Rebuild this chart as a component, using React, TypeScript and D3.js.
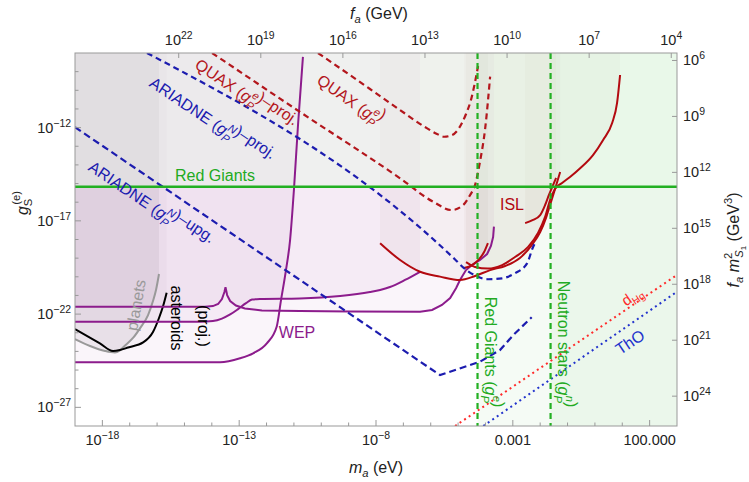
import React, { useEffect, useRef } from 'react';
import * as d3 from 'd3';

type P = [number, number];

// all curves are [log10(m_a / eV), log10(g_S^e)]
const planetsCurve: P[] = [[-19, -23.34], [-18.45, -23.71], [-17.9, -23.98], [-17.54, -24.06], [-17.36, -23.95], [-17.17, -23.68], [-16.88, -23.28], [-16.62, -22.75], [-16.33, -22.05], [-16.15, -21.3], [-16.04, -20.71], [-15.93, -19.85]];
const asteroidsCurve: P[] = [[-19, -22.8], [-18.09, -23.57], [-17.61, -23.98], [-17.36, -23.93], [-17.06, -23.79], [-16.51, -23.52], [-16.15, -22.96], [-15.93, -22.21], [-15.78, -21.57], [-15.65, -20.85]];
const wepCurve: P[] = [[-19, -24.58], [-13.7, -24.58], [-12.97, -24.37], [-12.49, -24.1], [-11.99, -23.57], [-11.63, -22.68], [-11.47, -21.24], [-11.29, -19.64], [-11.14, -18.03], [-11.0, -15.35], [-10.85, -11.86], [-10.67, -8.21]];
const cuspCurve: P[] = [[-19, -21.6], [-14.25, -21.6], [-13.96, -21.57], [-13.77, -21.46], [-13.63, -21.19], [-13.54, -20.82], [-13.5, -20.56], [-13.44, -20.98], [-13.33, -21.3], [-13.12, -21.54], [-12.79, -21.7], [-12.17, -21.81], [-10.78, -21.83], [-8.95, -21.86], [-6.39, -21.87], [-5.95, -21.78], [-5.59, -21.51], [-5.29, -21.14], [-5.07, -20.6], [-4.93, -20.17], [-4.71, -19.64], [-4.49, -19.37], [-4.2, -19.1], [-3.94, -18.78], [-3.8, -18.35], [-3.72, -17.87], [-3.69, -17.31]];
const flatCurve: P[] = [[-19, -22.41], [-14.43, -22.41], [-13.96, -22.37], [-13.63, -22.24], [-13.33, -22.02], [-13.04, -21.73], [-12.75, -21.41], [-12.53, -21.22], [-12.24, -21.19], [-10.78, -21.16], [-9.31, -21.03], [-8.22, -20.82], [-7.85, -20.71], [-7.49, -20.55], [-6.94, -20.17], [-6.39, -19.73]];
const islA: P[] = [[-4.71, -19.21], [-4.38, -19.47], [-3.91, -19.56], [-3.39, -19.37], [-2.92, -18.94], [-2.44, -18.4], [-2.08, -17.65], [-1.82, -16.79], [-1.64, -15.88], [-1.46, -15.29], [-1.2, -14.97], [-0.91, -14.65], [-0.54, -14.18], [-0.07, -13.47], [0.3, -12.66], [0.63, -11.75], [0.81, -10.68], [0.92, -9.18]];
const islB: P[] = [[-7.85, -18.2], [-7.12, -19.1], [-6.39, -19.73], [-5.66, -19.99], [-4.93, -20.17], [-4.38, -19.96], [-3.83, -19.64], [-3.28, -19.42], [-2.74, -18.99], [-2.3, -18.29], [-2.0, -17.6], [-1.79, -16.85], [-1.64, -16.15], [-1.49, -15.45], [-1.38, -14.92], [-1.27, -14.38]];
const islC: P[] = [[-4.78, -19.53], [-4.49, -19.37], [-4.23, -19.05], [-4.05, -18.67], [-3.91, -18.19]];
const islD: P[] = [[-2.55, -17.12], [-2.26, -16.95], [-2.0, -16.69], [-1.82, -16.15], [-1.68, -15.61], [-1.53, -15.08], [-1.42, -14.7]];
const quaxProj: P[] = [[-13.99, -8.0], [-10.78, -11.16], [-7.12, -14.72], [-5.92, -15.97], [-5.23, -16.42], [-4.81, -16.15], [-4.56, -15.61], [-4.38, -15.08], [-4.2, -13.83], [-4.01, -12.04], [-3.83, -9.27]];
const quaxCurve: P[] = [[-10.12, -8.0], [-8.22, -9.93], [-7.12, -11.06], [-6.21, -11.97], [-5.77, -12.34], [-5.51, -12.49], [-5.22, -12.4], [-5.04, -12.18], [-4.71, -11.27], [-4.53, -10.52], [-4.38, -9.55], [-4.27, -8.7]];
const ariadneProj: P[] = [[-16.37, -8.0], [-5.11, -19.07], [-4.75, -19.58], [-4.38, -19.93], [-3.91, -20.13], [-3.39, -20.08], [-2.92, -19.81], [-2.48, -19.28], [-2.26, -18.4], [-2.19, -18.19]];
const ariadneUpg: P[] = [[-19, -11.98], [-5.66, -25.27], [-4.2, -24.55], [-3.47, -23.93], [-2.98, -23.12], [-2.31, -22.17]];
const dHgLine: P[] = [[-5.11, -28], [3, -19.9]];
const thoLine: P[] = [[-4.08, -28], [3, -20.8]];
const redGiantsG = -15.17;
const redGiantsMa = -4.29;
const neutronStarsMa = -1.62;

// ticks
const xMajor = [-18, -13, -8, -3, 2];
const xMajorLabels = [['10', '−18'], ['10', '−13'], ['10', '−8'], ['0.001', ''], ['100.000', '']];
const yMajor = [-12, -17, -22, -27];
const faTicks = [22, 19, 16, 13, 10, 7, 4];
const rightTicks = [6, 9, 12, 15, 18, 21, 24];
const FA_K = 6.79; // log10(f_a * m_a)
const RIGHT_K = -2.4; // log10(f_a m^2 * g)

const X0 = 75, X1 = 677, Y0 = 53, Y1 = 426;
const FONT = 'Liberation Sans, Arial, sans-serif';

type Seg = { t: string; it?: boolean; sz?: number; sh?: number; dx?: number };

const gPe = (sup: string, size: number): Seg[] => [
  { t: 'g', it: true },
  { t: 'P', it: true, sz: 0.7, sh: size * 0.28 },
  { t: sup, it: true, sz: 0.7, sh: -size * 0.45, dx: -size * 0.45 },
  { t: '', sh: 0 },
];

function addText(parent: any, segs: Seg[], size: number, color: string) {
  const text = parent.append('text')
    .attr('font-family', FONT)
    .attr('font-size', size)
    .attr('fill', color);
  let cur = 0;
  segs.forEach(s => {
    const target = s.sh || 0;
    const ts = text.append('tspan').text(s.t);
    if (target - cur !== 0) ts.attr('dy', target - cur);
    cur = target;
    if (s.sz) ts.attr('font-size', size * s.sz);
    if (s.it) ts.attr('font-style', 'italic');
    if (s.dx) ts.attr('dx', s.dx);
  });
  return text;
}

const App = () => {
  const svgRef = useRef<SVGSVGElement>(null);

  useEffect(() => {
    const svg = d3.select(svgRef.current);
    svg.selectAll('*').remove();

    const x = d3.scaleLog().domain([1e-19, 1e3]).range([X0, X1]);
    const y = d3.scaleLog().domain([1e-28, 1e-8]).range([Y1, Y0]);
    const px = (d: P) => x(Math.pow(10, d[0]));
    const py = (d: P) => y(Math.pow(10, d[1]));
    const line = (c: any) => d3.line<P>().x(px).y(py).curve(c);
    const above = (c: any) => d3.area<P>().x(px).y0(Y0).y1(py).curve(c);

    svg.append('rect').attr('width', 749).attr('height', 482).attr('fill', 'white');
    svg.append('defs').append('clipPath').attr('id', 'plotclip')
      .append('rect').attr('x', X0).attr('y', Y0).attr('width', X1 - X0).attr('height', Y1 - Y0);
    const plot = svg.append('g').attr('clip-path', 'url(#plotclip)');

    // shaded exclusion regions
    const purpleFill = 'rgb(150,50,150)';
    const islFill = 'rgb(140,75,55)';
    const fills: [P[], any, string, number][] = [
      [wepCurve, d3.curveMonotoneX, purpleFill, 0.05],
      [cuspCurve, d3.curveLinear, purpleFill, 0.05],
      [flatCurve, d3.curveMonotoneX, purpleFill, 0.05],
      [planetsCurve, d3.curveMonotoneX, 'rgb(90,60,90)', 0.08],
      [asteroidsCurve, d3.curveMonotoneX, 'rgb(90,60,90)', 0.03],
      [islA, d3.curveMonotoneX, islFill, 0.04],
      [islB, d3.curveMonotoneX, islFill, 0.04],
      [islC, d3.curveMonotoneX, islFill, 0.04],
      [islD, d3.curveMonotoneX, islFill, 0.04],
    ];
    fills.forEach(([d, c, col, op]) => {
      plot.append('path').attr('d', above(c)(d)).attr('fill', col).attr('fill-opacity', op);
    });
    plot.append('rect')
      .attr('x', x(Math.pow(10, redGiantsMa))).attr('y', Y0)
      .attr('width', X1 - x(Math.pow(10, redGiantsMa))).attr('height', Y1 - Y0)
      .attr('fill', 'rgb(0,150,0)').attr('fill-opacity', 0.04);
    plot.append('rect')
      .attr('x', x(Math.pow(10, neutronStarsMa))).attr('y', Y0)
      .attr('width', X1 - x(Math.pow(10, neutronStarsMa))).attr('height', Y1 - Y0)
      .attr('fill', 'rgb(0,150,0)').attr('fill-opacity', 0.04);
    plot.append('rect')
      .attr('x', X0).attr('y', Y0)
      .attr('width', X1 - X0).attr('height', y(Math.pow(10, redGiantsG)) - Y0)
      .attr('fill', 'rgb(228,248,228)').attr('fill-opacity', 0.35);

    // curves
    const purple = '#8c1c8c';
    const isl = '#b30a10';
    const quax = '#b3161c';
    const blue = '#1c1caf';
    const green = '#22b022';
    const curves: [P[], any, string, number, string | null][] = [
      [planetsCurve, d3.curveMonotoneX, '#999999', 2, null],
      [asteroidsCurve, d3.curveMonotoneX, '#000000', 2, null],
      [wepCurve, d3.curveMonotoneX, purple, 2, null],
      [cuspCurve, d3.curveLinear, purple, 2, null],
      [flatCurve, d3.curveMonotoneX, purple, 2, null],
      [islB, d3.curveMonotoneX, isl, 2, null],
      [islA, d3.curveMonotoneX, isl, 2, null],
      [islC, d3.curveMonotoneX, isl, 2, null],
      [islD, d3.curveMonotoneX, isl, 2, null],
      [quaxProj, d3.curveMonotoneX, quax, 2.2, '6,4'],
      [quaxCurve, d3.curveMonotoneX, quax, 2.2, '6,4'],
      [ariadneProj, d3.curveMonotoneX, blue, 2.2, '6,4'],
      [ariadneUpg, d3.curveLinear, blue, 2.2, '7,4'],
      [dHgLine, d3.curveLinear, '#ff2a2a', 2, '2,3.5'],
      [thoLine, d3.curveLinear, '#2233cc', 2, '2,3.5'],
    ];
    curves.forEach(([d, c, col, w, dash]) => {
      const p = plot.append('path').attr('d', line(c)(d)).attr('fill', 'none')
        .attr('stroke', col).attr('stroke-width', w);
      if (dash) p.attr('stroke-dasharray', dash);
    });

    const rgY = y(Math.pow(10, redGiantsG));
    plot.append('line').attr('x1', X0).attr('x2', X1).attr('y1', rgY).attr('y2', rgY)
      .attr('stroke', green).attr('stroke-width', 2.5);
    [redGiantsMa, neutronStarsMa].forEach(m => {
      const xx = x(Math.pow(10, m));
      plot.append('line').attr('x1', xx).attr('x2', xx).attr('y1', Y0).attr('y2', Y1)
        .attr('stroke', green).attr('stroke-width', 2.2).attr('stroke-dasharray', '6,4');
    });

    // frame and ticks
    const axis = svg.append('g').attr('stroke', '#999').attr('stroke-width', 1);
    axis.append('rect').attr('x', X0).attr('y', Y0).attr('width', X1 - X0).attr('height', Y1 - Y0)
      .attr('fill', 'none');
    d3.range(-18, 3).forEach(e => {
      const len = xMajor.includes(e) ? 6 : 3.5;
      const xx = x(Math.pow(10, e));
      axis.append('line').attr('x1', xx).attr('x2', xx).attr('y1', Y1).attr('y2', Y1 - len);
    });
    d3.range(-27, -8).forEach(e => {
      const len = yMajor.includes(e) ? 6 : 3.5;
      const yy = y(Math.pow(10, e));
      axis.append('line').attr('x1', X0).attr('x2', X0 + len).attr('y1', yy).attr('y2', yy);
    });
    faTicks.forEach(e => {
      const xx = x(Math.pow(10, FA_K - e));
      axis.append('line').attr('x1', xx).attr('x2', xx).attr('y1', Y0).attr('y2', Y0 + 5);
    });
    rightTicks.forEach(e => {
      const yy = y(Math.pow(10, RIGHT_K - e));
      axis.append('line').attr('x1', X1).attr('x2', X1 - 5).attr('y1', yy).attr('y2', yy);
    });

    // tick labels
    const tickCol = '#222';
    const ts = 14.5;
    xMajor.forEach((e, i) => {
      const [b, s] = xMajorLabels[i];
      const segs: Seg[] = s ? [{ t: b }, { t: s, sz: 0.72, sh: -6 }] : [{ t: b }];
      addText(svg, segs, ts, tickCol).attr('x', x(Math.pow(10, e))).attr('y', 445).attr('text-anchor', 'middle');
    });
    yMajor.forEach(e => {
      addText(svg, [{ t: '10' }, { t: '−' + Math.abs(e), sz: 0.72, sh: -6 }], ts, tickCol)
        .attr('x', 71).attr('y', y(Math.pow(10, e)) + 5).attr('text-anchor', 'end');
    });
    faTicks.forEach(e => {
      addText(svg, [{ t: '10' }, { t: String(e), sz: 0.72, sh: -6 }], ts, tickCol)
        .attr('x', x(Math.pow(10, FA_K - e))).attr('y', 45).attr('text-anchor', 'middle');
    });
    rightTicks.forEach(e => {
      addText(svg, [{ t: '10' }, { t: String(e), sz: 0.72, sh: -6 }], ts, tickCol)
        .attr('x', 683).attr('y', y(Math.pow(10, RIGHT_K - e)) + 5).attr('text-anchor', 'start');
    });

    // axis titles
    const at = 16;
    addText(svg, [{ t: 'm', it: true }, { t: 'a', it: true, sz: 0.7, sh: 4 }, { t: ' (eV)' }], at, tickCol)
      .attr('x', 376).attr('y', 473).attr('text-anchor', 'middle');
    addText(svg, [{ t: 'f', it: true }, { t: 'a', it: true, sz: 0.7, sh: 4 }, { t: ' (GeV)' }], at, tickCol)
      .attr('x', 379).attr('y', 19).attr('text-anchor', 'middle');
    addText(svg, [{ t: 'g', it: true }, { t: 'S', sz: 0.7, sh: 4 }, { t: '(e)', sz: 0.7, sh: -8, dx: -6 }], at, tickCol)
      .attr('text-anchor', 'middle').attr('transform', 'translate(28,203) rotate(-90)');
    addText(svg, [
      { t: 'f', it: true }, { t: 'a', it: true, sz: 0.7, sh: 4 }, { t: ' ' }, { t: 'm', it: true },
      { t: '2', sz: 0.7, sh: -7 }, { t: 'S', it: true, sz: 0.7, sh: 4, dx: -5 }, { t: '1', sz: 0.5, sh: 7 },
      { t: ' (GeV' }, { t: '3', sz: 0.7, sh: -7 }, { t: ')' },
    ], at, tickCol).attr('text-anchor', 'middle').attr('transform', 'translate(739,240) rotate(-90)');

    // in-plot labels
    const ls = 16;
    const label = (segs: Seg[], col: string, cx: number, cy: number, rot: number, size = ls) => {
      addText(svg, segs, size, col).attr('text-anchor', 'middle').attr('dy', '0.35em')
        .attr('transform', `translate(${cx},${cy}) rotate(${rot})`);
    };
    label([{ t: 'QUAX (' }, ...gPe('e', ls), { t: ')–proj.' }], quax, 245, 95, 34);
    label([{ t: 'QUAX (' }, ...gPe('e', ls), { t: ')' }], quax, 350, 100, 35);
    label([{ t: 'ARIADNE (' }, ...gPe('N', ls), { t: ')–proj.' }], blue, 211, 121, 34);
    label([{ t: 'ARIADNE (' }, ...gPe('N', ls), { t: ')–upg.' }], blue, 150, 205, 34);
    label([{ t: 'Red Giants' }], '#22aa22', 215, 175, 0);
    label([{ t: 'ISL' }], isl, 512, 204, 0);
    label([{ t: 'WEP' }], purple, 297, 332, 0);
    label([{ t: 'planets' }], '#999999', 136, 305, -80);
    label([{ t: 'asteroids' }], '#000000', 177, 318, 90);
    label([{ t: '(proj.)' }], '#000000', 204, 326, 90);
    label([{ t: 'Red Giants (' }, ...gPe('e', ls), { t: ')' }], '#22aa22', 491, 352, 90);
    label([{ t: 'Neutron stars (' }, ...gPe('n', ls), { t: ')' }], '#22aa22', 564, 344, 90);
    label([{ t: 'd' }, { t: 'Hg', sz: 0.7, sh: 4 }], '#ff2a2a', 632, 296, -34, 15);
    label([{ t: 'ThO' }], '#2233cc', 630, 342, -34);
  }, []);

  return (
    <svg ref={svgRef} width={749} height={482}
      style={{ position: 'absolute', left: 0, top: 0, display: 'block' }} />
  );
};

export default App;
